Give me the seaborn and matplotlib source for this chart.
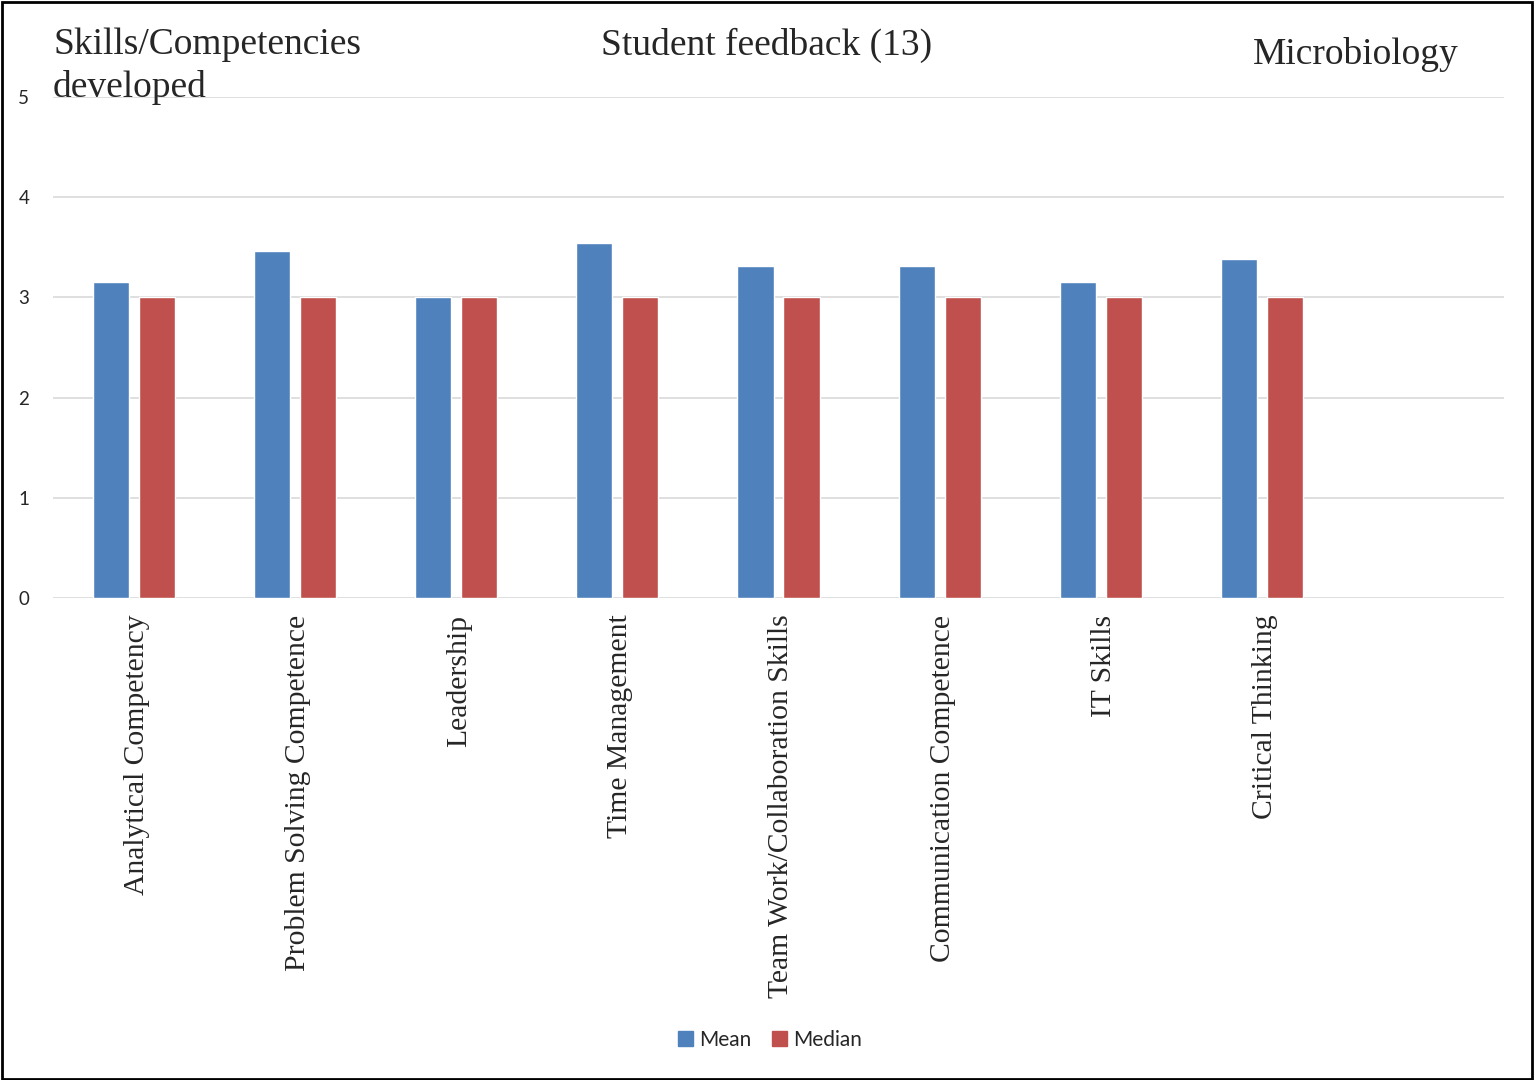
import matplotlib
matplotlib.use("Agg")
import matplotlib.pyplot as plt
import matplotlib.transforms as mtransforms
import seaborn as sns
import pandas as pd
from matplotlib.patches import Rectangle

categories = ["Analytical Competency", "Problem Solving Competence", "Leadership",
              "Time Management", "Team Work/Collaboration Skills",
              "Communication Competence", "IT Skills", "Critical Thinking"]
mean_vals = [3.15, 3.46, 3.00, 3.54, 3.31, 3.31, 3.15, 3.38]
median_vals = [3, 3, 3, 3, 3, 3, 3, 3]
series_names = ["Mean", "Median"]
colors = ["#4F81BD", "#C0504D"]

df = pd.DataFrame({
    "Skill": categories * 2,
    "Value": mean_vals + median_vals,
    "Stat": [series_names[0]] * len(categories) + [series_names[1]] * len(categories),
})

sns.set_style("white")
W, H = 1534, 1080
fig = plt.figure(figsize=(W / 100, H / 100), dpi=100)
ax = fig.add_axes([53 / W, 1 - 598 / H, (1504 - 53) / W, (598 - 97) / H])

sns.barplot(data=df, x="Skill", y="Value", hue="Stat", order=categories,
            hue_order=series_names, palette=colors, width=0.571, gap=0.217,
            ax=ax, saturation=1, legend=False, errorbar=None)

ax.set_xlim(-0.5, 8.5)
ax.set_ylim(0, 5)
ax.set_yticks([0, 1, 2, 3, 4, 5])
ax.grid(axis="y", color="#D9D9D9", linewidth=1.2)
ax.set_axisbelow(True)
for s in ax.spines.values():
    s.set_visible(False)
ax.tick_params(axis="both", length=0)
ax.set_xlabel("")
ax.set_ylabel("")
ax.set_xticks(range(len(categories)))
ax.set_xticklabels(categories, rotation=90, va="top", ha="center",
                   fontfamily="Liberation Serif", fontsize=21.3)
ax.tick_params(axis="x", pad=12)
offset = mtransforms.ScaledTranslation(3 / 100, 0, fig.dpi_scale_trans)
for lbl in ax.get_xticklabels():
    lbl.set_transform(lbl.get_transform() + offset)
for lbl in ax.get_yticklabels():
    lbl.set_fontfamily("Lato")
    lbl.set_fontsize(13.5)
ax.tick_params(axis="y", pad=17)

fig.text(53 / W, 1 - 28 / H, "Skills/Competencies\ndeveloped", ha="left", va="top",
         fontfamily="Liberation Serif", fontsize=27, linespacing=1.28)
fig.text(767 / W, 1 - 45 / H, "Student feedback (13)", ha="center", va="center",
         fontfamily="Liberation Serif", fontsize=27)
fig.text(1356 / W, 1 - 55 / H, "Microbiology", ha="center", va="center",
         fontfamily="Liberation Serif", fontsize=27)

handles = [Rectangle((0, 0), 1, 1, color=c) for c in colors]
fig.legend(handles, series_names, loc="center", bbox_to_anchor=(770 / W, 1 - 1040 / H),
           ncol=2, frameon=False, prop={"family": "Lato", "size": 15},
           handlelength=0.7, handleheight=0.7, handletextpad=0.3, columnspacing=1.0)

fig.patches.append(Rectangle((0.001, 0.001), 0.998, 0.997, transform=fig.transFigure,
                             fill=False, edgecolor="black", linewidth=2))

fig.savefig("out.png", dpi=100)
